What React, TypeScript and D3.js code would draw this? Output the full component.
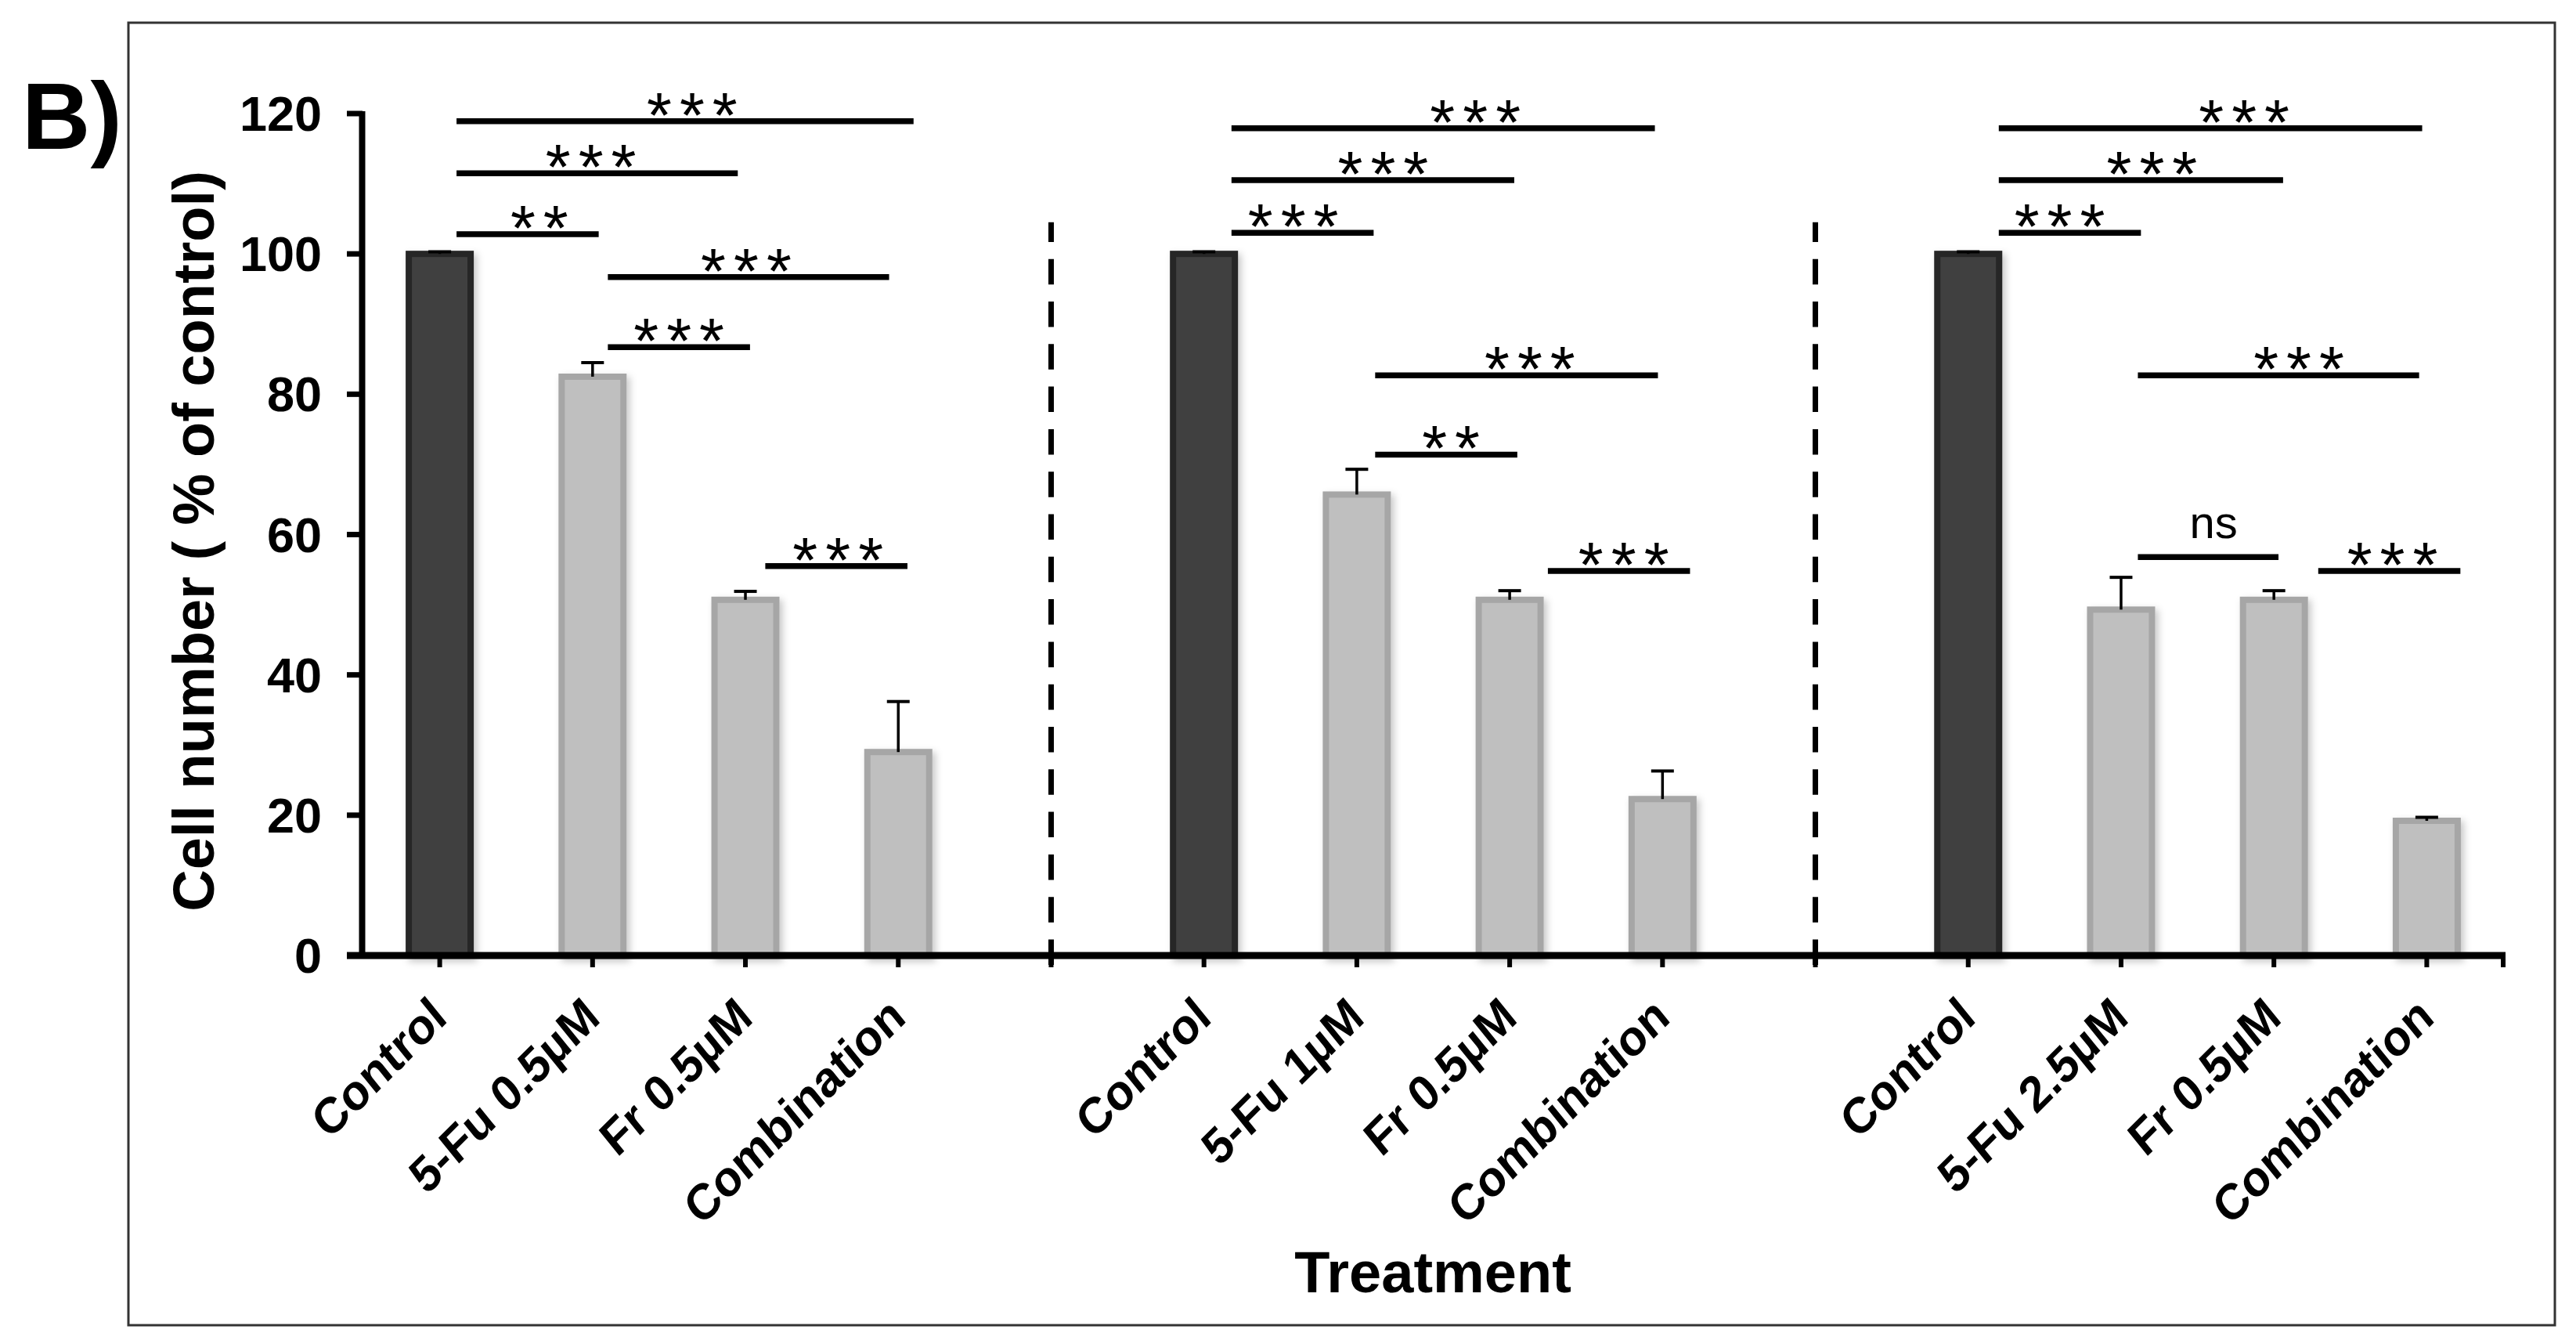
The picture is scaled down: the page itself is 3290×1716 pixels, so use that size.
import { useEffect, useRef } from 'react'
import * as d3 from 'd3'

// categories along the x axis (blank slots hold the dashed separators)
const categories = [
  'Control', '5-Fu 0.5µM', 'Fr 0.5µM', 'Combination', '',
  'Control', '5-Fu 1µM', 'Fr 0.5µM', 'Combination', '',
  'Control', '5-Fu 2.5µM', 'Fr 0.5µM', 'Combination'
]
const isControl = [true, false, false, false, false, true, false, false, false, false, true, false, false, false]
const values = [100, 82.5, 50.7, 29.0, null, 100, 65.7, 50.7, 22.3, null, 100, 49.3, 50.7, 19.2]
const errors = [0.3, 2.0, 1.2, 7.2, null, 0.3, 3.6, 1.3, 4.0, null, 0.3, 4.6, 1.3, 0.5]
const separators = [4, 9]
const yTicks = [0, 20, 40, 60, 80, 100, 120]

// significance bars: start / end in category units, level in % units
const sigFrom = [0.11, 0.11, 0.11, 1.10, 1.10, 2.13, 5.18, 5.18, 5.18, 6.12, 6.12, 7.25, 10.2, 10.2, 10.2, 11.11, 11.11, 12.29]
const sigTo = [3.10, 1.95, 1.04, 2.94, 2.03, 3.06, 7.95, 7.03, 6.11, 7.97, 7.05, 8.18, 12.97, 12.06, 11.13, 12.95, 12.03, 13.22]
const sigLevel = [118.9, 111.5, 102.8, 96.7, 86.7, 55.5, 117.9, 110.5, 103.0, 82.7, 71.4, 54.8, 117.9, 110.5, 103.0, 82.7, 56.8, 54.8]
const sigLabel = ['***', '***', '**', '***', '***', '***', '***', '***', '***', '***', '**', '***', '***', '***', '***', '***', 'ns', '***']
const sigShift = [9, -8, 15, -3, 0, 2, 41, 13, -12, 17, 6, 6, 43, 14, -13, 26, 7, 4]

const FONT = '"Liberation Sans", Arial, Helvetica, sans-serif'

export default function App() {
  const svgRef = useRef<SVGSVGElement>(null)

  useEffect(() => {
    if (!svgRef.current) return
    const width = 3290
    const height = 1716

    const svg = d3.select(svgRef.current)
    svg.selectAll('*').remove()
    svg.attr('width', width).attr('height', height)

    svg.append('rect').attr('width', width).attr('height', height).attr('fill', '#ffffff')

    const defs = svg.append('defs')
    defs.append('filter')
      .attr('id', 'barShadow')
      .attr('x', '-20%').attr('y', '-5%').attr('width', '150%').attr('height', '115%')
      .append('feDropShadow')
      .attr('dx', 4).attr('dy', 4).attr('stdDeviation', 5)
      .attr('flood-color', '#000').attr('flood-opacity', 0.22)

    // outer frame
    svg.append('rect')
      .attr('x', 164).attr('y', 29)
      .attr('width', 3099).attr('height', 1663)
      .attr('fill', 'none').attr('stroke', '#333').attr('stroke-width', 3)

    const x0 = 464
    const x1 = 3197
    const xScale = d3.scaleBand<number>()
      .domain(categories.map((_, i) => i))
      .range([x0, x1])
      .paddingInner(0).paddingOuter(0)
    const bw = xScale.bandwidth()
    const cx = (i: number) => (xScale(i) as number) + bw / 2
    const catX = d3.scaleLinear().domain([-0.5, categories.length - 0.5]).range([x0, x1])

    const yScale = d3.scaleLinear().domain([0, 120]).range([1220, 145])
    const y0 = yScale(0)

    const barW = 79

    // bars
    const barData = values.map((v, i) => ({ v, e: errors[i], i, ctrl: isControl[i] })).filter(d => d.v !== null) as { v: number, e: number, i: number, ctrl: boolean }[]

    svg.append('g').selectAll('rect')
      .data(barData)
      .enter()
      .append('rect')
      .attr('x', d => cx(d.i) - barW / 2)
      .attr('y', d => yScale(d.v))
      .attr('width', barW)
      .attr('height', d => y0 - yScale(d.v))
      .attr('fill', d => d.ctrl ? '#404040' : '#bfbfbf')
      .attr('stroke', d => d.ctrl ? '#262626' : '#a6a6a6')
      .attr('stroke-width', 8)
      .attr('filter', 'url(#barShadow)')

    // error bars
    const eg = svg.append('g').attr('stroke', '#000')
    barData.forEach(d => {
      eg.append('line')
        .attr('x1', cx(d.i)).attr('x2', cx(d.i))
        .attr('y1', yScale(d.v)).attr('y2', yScale(d.v + d.e))
        .attr('stroke-width', 3.5)
      eg.append('line')
        .attr('x1', cx(d.i) - 14.5).attr('x2', cx(d.i) + 14.5)
        .attr('y1', yScale(d.v + d.e)).attr('y2', yScale(d.v + d.e))
        .attr('stroke-width', 4)
    })

    // dashed separators
    separators.forEach(i => {
      svg.append('line')
        .attr('x1', cx(i)).attr('x2', cx(i))
        .attr('y1', y0 + 12).attr('y2', yScale(104.5))
        .attr('stroke', '#000').attr('stroke-width', 7)
        .attr('stroke-dasharray', '32.5 21.8')
    })

    // y axis
    svg.append('line')
      .attr('x1', 462.5).attr('x2', 462.5)
      .attr('y1', yScale(120) - 3).attr('y2', y0 + 4)
      .attr('stroke', '#000').attr('stroke-width', 8)
    svg.append('g').selectAll('line')
      .data(yTicks).enter().append('line')
      .attr('x1', 443).attr('x2', 463)
      .attr('y1', d => yScale(d)).attr('y2', d => yScale(d))
      .attr('stroke', '#000').attr('stroke-width', 7)
    svg.append('g').selectAll('text')
      .data(yTicks).enter().append('text')
      .attr('x', 411).attr('y', d => yScale(d))
      .attr('dy', '0.35em')
      .attr('text-anchor', 'end')
      .attr('font-family', FONT).attr('font-weight', 'bold').attr('font-size', 63)
      .text(d => d)

    // x axis
    svg.append('line')
      .attr('x1', 443).attr('x2', x1 + 3)
      .attr('y1', y0).attr('y2', y0)
      .attr('stroke', '#000').attr('stroke-width', 9)
    const tickXs = categories.map((_, i) => cx(i)).concat([x1])
    svg.append('g').selectAll('line')
      .data(tickXs).enter().append('line')
      .attr('x1', d => d).attr('x2', d => d)
      .attr('y1', y0).attr('y2', y0 + 15)
      .attr('stroke', '#000').attr('stroke-width', 6)

    svg.append('g').selectAll('text')
      .data(categories.map((c, i) => ({ c, i })).filter(d => d.c !== ''))
      .enter().append('text')
      .attr('transform', d => `translate(${cx(d.i) + 12},${y0 + 83}) rotate(-45) skewX(-6)`)
      .attr('text-anchor', 'end')
      .attr('font-family', FONT).attr('font-weight', 'bold').attr('font-size', 61)
      .text(d => d.c)

    // axis titles
    svg.append('text')
      .attr('x', 1830).attr('y', 1650)
      .attr('text-anchor', 'middle')
      .attr('font-family', FONT).attr('font-weight', 'bold').attr('font-size', 74)
      .text('Treatment')
    svg.append('text')
      .attr('transform', 'translate(273,691) rotate(-90)')
      .attr('text-anchor', 'middle')
      .attr('font-family', FONT).attr('font-weight', 'bold').attr('font-size', 74)
      .text('Cell number ( % of control)')

    // panel label
    svg.append('text')
      .attr('x', 28).attr('y', 190)
      .attr('font-family', FONT).attr('font-weight', 'bold').attr('font-size', 121)
      .text('B)')

    // significance annotations
    const sg = svg.append('g')
    sigLabel.forEach((lab, k) => {
      const xa = catX(sigFrom[k])
      const xb = catX(sigTo[k])
      const ly = yScale(sigLevel[k])
      sg.append('line')
        .attr('x1', xa).attr('x2', xb)
        .attr('y1', ly).attr('y2', ly)
        .attr('stroke', '#000').attr('stroke-width', 7.5)
      const tx = (xa + xb) / 2 + sigShift[k]
      if (lab === 'ns') {
        sg.append('text')
          .attr('x', tx).attr('y', ly - 24)
          .attr('text-anchor', 'middle')
          .attr('font-family', FONT).attr('font-size', 58)
          .text(lab)
      } else {
        sg.append('text')
          .attr('x', tx + 5).attr('y', ly + 20)
          .attr('text-anchor', 'middle')
          .attr('font-family', FONT).attr('font-size', 82)
          .attr('letter-spacing', 10)
          .text(lab)
      }
    })
  }, [])

  return (
    <svg ref={svgRef} style={{ position: 'absolute', left: 0, top: 0, display: 'block' }} />
  )
}
